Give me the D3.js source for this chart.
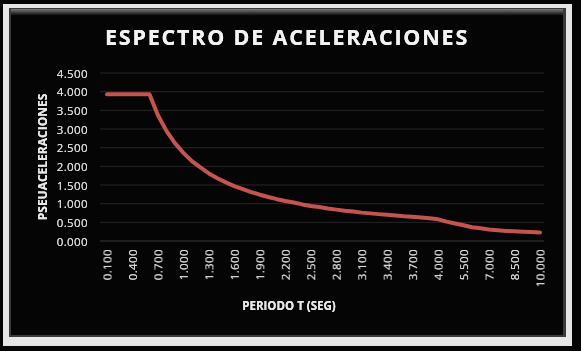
<!DOCTYPE html>
<html>
<head>
<meta charset="utf-8">
<script src="https://cdn.jsdelivr.net/npm/d3@7"></script>
<style>
  body { margin: 0; background: #000; }
  svg { display: block; }
  .tick text { font-family: 'Open Sans', sans-serif; font-size: 11.5px; fill: #d9d9d9; letter-spacing: 0.4px; }
</style>
</head>
<body>
<div id="chart"></div>
<script>
// periodo T (seg)
const periods = [
  0.1, 0.2, 0.3, 0.4, 0.5, 0.6, 0.7, 0.8, 0.9, 1.0,
  1.1, 1.2, 1.3, 1.4, 1.5, 1.6, 1.7, 1.8, 1.9, 2.0,
  2.1, 2.2, 2.3, 2.4, 2.5, 2.6, 2.7, 2.8, 2.9, 3.0,
  3.1, 3.2, 3.3, 3.4, 3.5, 3.6, 3.7, 3.8, 3.9, 4.0,
  4.5, 5.0, 5.5, 6.0, 6.5, 7.0, 7.5, 8.0, 8.5, 9.0, 9.5, 10.0
];

// pseudoaceleraciones
const accels = [
  3.93, 3.93, 3.93, 3.93, 3.93, 3.93, 3.37, 2.95, 2.62, 2.36,
  2.14, 1.97, 1.81, 1.68, 1.57, 1.47, 1.39, 1.31, 1.24, 1.18,
  1.12, 1.07, 1.03, 0.98, 0.94, 0.91, 0.87, 0.84, 0.81, 0.79,
  0.76, 0.74, 0.72, 0.70, 0.68, 0.66, 0.65, 0.63, 0.61, 0.58,
  0.52, 0.47, 0.42, 0.37, 0.34, 0.31, 0.29, 0.27, 0.26, 0.25, 0.24, 0.23
];

const yTicks = [0, 0.5, 1, 1.5, 2, 2.5, 3, 3.5, 4, 4.5];

const width = 581;
const height = 351;
const plot = { left: 100, right: 544, top: 73, bottom: 241 };

const svg = d3.select('#chart').append('svg')
  .attr('width', width)
  .attr('height', height);

const defs = svg.append('defs');
const topShade = defs.append('linearGradient')
  .attr('id', 'topShade')
  .attr('x1', 0).attr('y1', 0).attr('x2', 0).attr('y2', 1);
topShade.append('stop').attr('offset', '0%').attr('stop-color', '#7a7a7a');
topShade.append('stop').attr('offset', '100%').attr('stop-color', '#000');

const glow = defs.append('filter').attr('id', 'glow')
  .attr('x', '-10%').attr('y', '-20%').attr('width', '120%').attr('height', '140%');
glow.append('feGaussianBlur').attr('stdDeviation', 0.6);
const merge = glow.append('feMerge');
merge.append('feMergeNode');
merge.append('feMergeNode').attr('in', 'SourceGraphic');

// frame
svg.append('rect')
  .attr('width', width).attr('height', height)
  .style('fill', '#050505');

svg.append('rect')
  .attr('x', 3).attr('y', 4)
  .attr('width', 569).attr('height', 342)
  .style('fill', '#e6e6e6');

svg.append('rect')
  .attr('x', 9).attr('y', 8)
  .attr('width', 557).attr('height', 329)
  .style('fill', '#3a3a3a');

svg.append('rect')
  .attr('x', 11).attr('y', 9)
  .attr('width', 552).attr('height', 326)
  .style('fill', '#050505');

svg.append('rect')
  .attr('x', 11).attr('y', 9)
  .attr('width', 552).attr('height', 7)
  .style('fill', 'url(#topShade)');

// scales
const xScale = d3.scalePoint()
  .domain(periods)
  .range([107, 540]);

const yScale = d3.scaleLinear()
  .domain([0, 4.5])
  .range([plot.bottom, plot.top]);

// gridlines
svg.append('g')
  .attr('class', 'grid')
  .selectAll('line')
  .data(yTicks)
  .join('line')
  .attr('x1', plot.left)
  .attr('x2', plot.right)
  .attr('y1', d => yScale(d))
  .attr('y2', d => yScale(d))
  .style('stroke', d => d === 0 ? '#3a3a3a' : '#262626')
  .style('stroke-width', 1);

// y axis
const yAxis = d3.axisLeft(yScale)
  .tickValues(yTicks)
  .tickFormat(d3.format('.3f'))
  .tickSize(0)
  .tickPadding(0);

const yG = svg.append('g')
  .attr('transform', 'translate(88,0)')
  .call(yAxis);
yG.select('.domain').remove();
yG.selectAll('.tick text').attr('dy', '0.36em').attr('filter', 'url(#glow)');

// x axis, a label on every third category
const xAxis = d3.axisBottom(xScale)
  .tickValues(periods.filter((d, i) => i % 3 === 0))
  .tickFormat(d3.format('.3f'))
  .tickSize(0);

const xG = svg.append('g')
  .attr('transform', 'translate(0,249)')
  .call(xAxis);
xG.select('.domain').remove();
xG.selectAll('.tick text')
  .attr('transform', 'rotate(-90)')
  .attr('text-anchor', 'end')
  .attr('x', 0)
  .attr('y', 0)
  .attr('dy', '0.36em')
  .attr('filter', 'url(#glow)');

// line
const line = d3.line()
  .x((d, i) => xScale(periods[i]))
  .y(d => yScale(d));

svg.append('path')
  .datum(accels)
  .attr('d', line)
  .style('fill', 'none')
  .style('stroke', '#c5534f')
  .style('stroke-width', 4)
  .style('stroke-linejoin', 'round')
  .style('stroke-linecap', 'round');

// titles
svg.append('text')
  .attr('x', 287)
  .attr('y', 45)
  .attr('text-anchor', 'middle')
  .style('font-family', "'Open Sans', sans-serif")
  .style('font-weight', 'bold')
  .style('font-size', '21.5px')
  .style('letter-spacing', '1.8px')
  .style('fill', '#f2f2f2')
  .attr('filter', 'url(#glow)')
  .text('ESPECTRO DE ACELERACIONES');

svg.append('text')
  .attr('transform', 'translate(47,157) rotate(-90)')
  .attr('text-anchor', 'middle')
  .style('font-family', "'Open Sans', sans-serif")
  .style('font-weight', 'bold')
  .style('font-size', '12px')
  .style('fill', '#e6e6e6')
  .attr('filter', 'url(#glow)')
  .text('PSEUACELERACIONES');

svg.append('text')
  .attr('x', 289)
  .attr('y', 310)
  .attr('text-anchor', 'middle')
  .style('font-family', "'Open Sans', sans-serif")
  .style('font-weight', 'bold')
  .style('font-size', '11.5px')
  .style('fill', '#e6e6e6')
  .attr('filter', 'url(#glow)')
  .text('PERIODO T (SEG)');
</script>
</body>
</html>
